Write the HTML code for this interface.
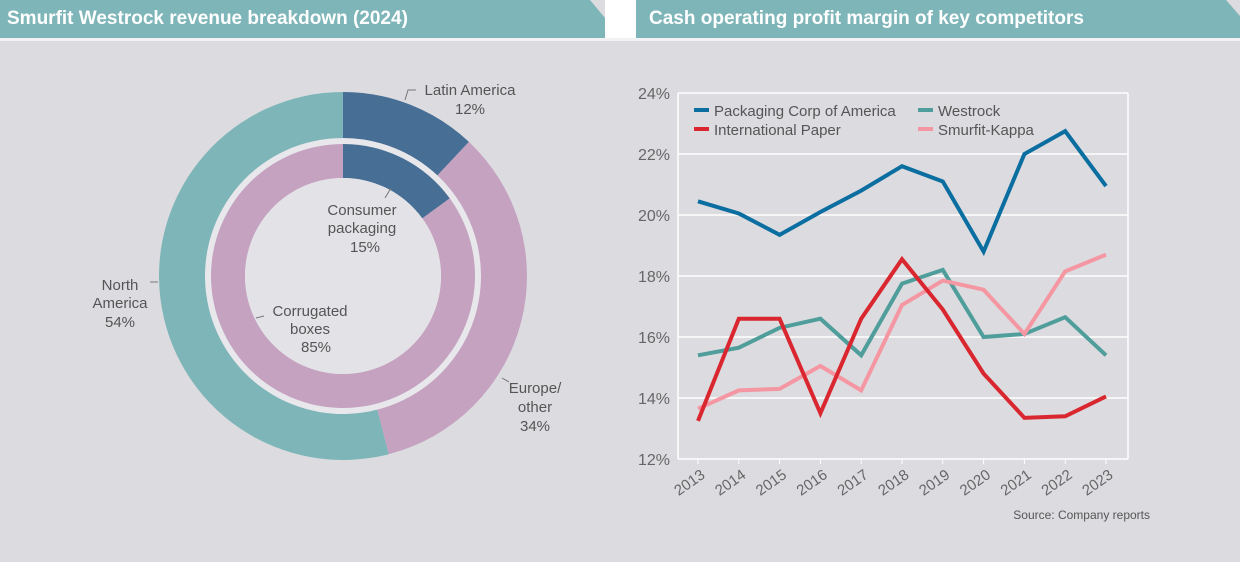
<!DOCTYPE html>
<html><head><meta charset="utf-8"><style>
body{margin:0;width:1240px;height:562px;background:#dcdbdf;font-family:"Liberation Sans",sans-serif;overflow:hidden;position:relative}
.hdr{position:absolute;top:0;height:38px;background:#7db5b8;color:#fff;font-weight:bold;font-size:19px;line-height:38px;padding-left:7px;box-sizing:border-box;white-space:nowrap}
.sep{position:absolute;top:38px;left:0;width:1240px;height:3px;background:#f2f2f4}
</style></head><body>
<div class="hdr" style="left:0;width:605px;clip-path:polygon(0 0,590px 0,605px 18px,605px 100%,0 100%)">Smurfit Westrock revenue breakdown (2024)</div>
<div class="hdr" style="left:636px;width:604px;padding-left:13px;clip-path:polygon(0 0,590px 0,604px 16px,604px 100%,0 100%)">Cash operating profit margin of key competitors</div>
<div style="position:absolute;left:605px;top:0;width:31px;height:41px;background:#fff"></div>
<div class="sep"></div>
<svg width="1240" height="562" style="position:absolute;left:0;top:0" font-family="Liberation Sans, sans-serif">
<g id="donut"></g>
<g id="line"></g>
</svg>
<script>
const NS="http://www.w3.org/2000/svg";
function mk(t,a,p){const e=document.createElementNS(NS,t);for(const k in a)e.setAttribute(k,a[k]);p.appendChild(e);return e;}
// Donut data
const outerLabels=["Latin America","Europe/other","North America"];
const outerValues=[12,34,54];
const innerLabels=["Consumer packaging","Corrugated boxes"];
const innerValues=[15,85];
const outerColors=["#476e94","#c4a2c0","#7eb5b8"];
const innerColors=["#476e94","#c4a2c0"];
const cx=343,cy=276;
const dg=document.getElementById('donut');
mk('circle',{cx:cx,cy:cy,r:184,fill:'#e8e7eb'},dg);
function ring(vals,cols,r0,r1,names){
 const tot=vals.reduce((a,b)=>a+b,0);let a=0;
 vals.forEach((v,i)=>{const a0=a/tot*2*Math.PI,a1=(a+v)/tot*2*Math.PI;a+=v;
  const p=(r,t)=>[cx+r*Math.sin(t),cy-r*Math.cos(t)];const lg=(a1-a0)>Math.PI?1:0;
  const [x0,y0]=p(r1,a0),[x1,y1]=p(r1,a1),[x2,y2]=p(r0,a1),[x3,y3]=p(r0,a0);
  const e=mk('path',{d:`M${x0},${y0}A${r1},${r1} 0 ${lg} 1 ${x1},${y1}L${x2},${y2}A${r0},${r0} 0 ${lg} 0 ${x3},${y3}Z`,fill:cols[i]},dg);
  
  
 });}
ring(outerValues,outerColors,138,184,['slice-latin-america','slice-europe-other','slice-north-america']);
ring(innerValues,innerColors,98,132,['slice-consumer-packaging','slice-corrugated-boxes']);
mk('circle',{cx:cx,cy:cy,r:98,fill:'#e3e2e6'},dg);
function txt(g,x,y,s,anchor,size,fill){const t=mk('text',{x:x,y:y,'text-anchor':anchor||'middle','font-size':size||15,fill:fill||'#555'},g);t.textContent=s;return t;}
const lab=[[470,95,"Latin America"],[470,114,outerValues[0]+"%"],[535,393,"Europe/"],[535,412,"other"],[535,431,outerValues[1]+"%"],[120,290,"North"],[120,308,"America"],[120,327,outerValues[2]+"%"],[362,215,"Consumer"],[362,233,"packaging"],[365,252,innerValues[0]+"%"],[310,316,"Corrugated"],[310,334,"boxes"],[316,352,innerValues[1]+"%"]];
lab.forEach(l=>{const t=txt(dg,l[0],l[1],l[2]);});
[[[416,90],[408,90],[405,100]],[[509,382],[502,378]],[[158,282],[150,282]],[[391,188],[385,198]],[[264,316],[256,318]]].forEach(p=>mk('polyline',{points:p.map(q=>q.join(',')).join(' '),fill:'none',stroke:'#777','stroke-width':1},dg));
// Line chart data
const years=["2013","2014","2015","2016","2017","2018","2019","2020","2021","2022","2023"];
const yTicks=[12,14,16,18,20,22,24];
const seriesNames=["Packaging Corp of America","International Paper","Westrock","Smurfit-Kappa"];
const pca=[20.45,20.05,19.35,20.1,20.8,21.6,21.1,18.8,22.0,22.75,20.95];
const ip=[13.25,16.6,16.6,13.5,16.6,18.55,16.9,14.8,13.35,13.4,14.05];
const westrock=[15.4,15.65,16.3,16.6,15.4,17.75,18.2,16.0,16.1,16.65,15.4];
const smurfitKappa=[13.65,14.25,14.3,15.05,14.25,17.05,17.85,17.55,16.1,18.15,18.7];
const colors=["#0a6ea0","#d9262f","#4f9e9b","#f597a3"];
const lg=document.getElementById('line');
const X0=678,X1=1128,Y0=459,Y1=93;
const xs=i=>698+i*(1106-698)/(years.length-1);
const ys=v=>Y0-(v-12)/(24-12)*(Y0-Y1);
yTicks.forEach(v=>{if(v>12)mk('line',{x1:X0,x2:X1,y1:ys(v),y2:ys(v),stroke:'#fff','stroke-width':1.5},lg);
 const t=txt(lg,670,ys(v)+6,v+"%","end",16,'#666');});
mk('line',{x1:X0,x2:X0,y1:Y1,y2:Y0,stroke:'#fff','stroke-width':1.5},lg);
mk('line',{x1:X0,x2:X1,y1:Y0,y2:Y0,stroke:'#fff','stroke-width':1.5},lg);
mk('line',{x1:X1,x2:X1,y1:Y1,y2:Y0,stroke:'#fff','stroke-width':1.5},lg);
years.forEach((y,i)=>{const x=xs(i);mk('line',{x1:x,x2:x,y1:Y0,y2:Y0+5,stroke:'#fff'},lg);
 const t=mk('text',{x:x+8,y:Y0+18,'text-anchor':'end','font-size':15,fill:'#666',transform:`rotate(-35 ${x+8} ${Y0+18})`},lg);t.textContent=y;
 });
[pca,westrock,smurfitKappa,ip].forEach((s,k)=>{const ci=[0,2,3,1][k];
 const p=mk('polyline',{points:s.map((v,i)=>xs(i)+','+ys(v)).join(' '),fill:'none',stroke:colors[ci],'stroke-width':4,'stroke-linejoin':'miter'},lg);
 
 });
[[694,111,0],[694,130,1],[918,111,2],[918,130,3]].forEach(l=>{
 mk('line',{x1:l[0],x2:l[0]+15,y1:l[1]-1,y2:l[1]-1,stroke:colors[l[2]],'stroke-width':4},lg);
 const t=txt(lg,l[0]+20,l[1]+5,seriesNames[l[2]],"start",15,'#555');
 });
const s=txt(lg,1150,519,"Source: Company reports","end",12,'#555');
</script>
</body></html>
